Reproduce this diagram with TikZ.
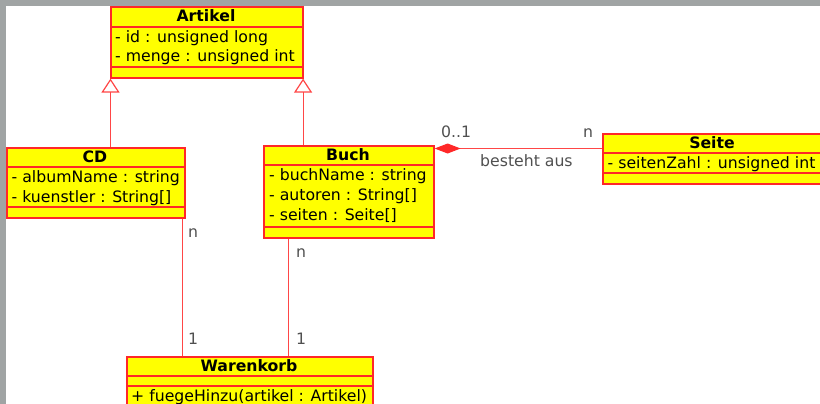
\documentclass[tikz,border=0pt]{standalone}
\usepackage{fontspec}
\setmainfont{DejaVu Sans}
\usetikzlibrary{arrows.meta,calc}
\definecolor{umlred}{RGB}{255,40,40}
\definecolor{umlline}{RGB}{255,70,70}
\definecolor{umlfill}{RGB}{255,255,0}
\definecolor{framegray}{RGB}{160,164,164}
\definecolor{labelgray}{RGB}{80,80,80}
\newcommand{\umlfont}{\fontsize{15.7}{18}\selectfont}
\begin{document}
\begin{tikzpicture}[x=1pt,y=-1pt,
  classbox/.style={draw=umlred, fill=umlfill, line width=1.6pt, inner sep=0pt, anchor=north west},
  divider/.style={draw=umlred, line width=1.6pt},
  classtitle/.style={font=\umlfont\bfseries, anchor=base, inner sep=0pt},
  member/.style={font=\umlfont, anchor=base west, inner sep=0pt},
  role/.style={font=\umlfont, text=labelgray, anchor=base west, inner sep=0pt},
  assoc/.style={draw=umlline, line width=1.2pt},
  inherit/.style={assoc, -{Triangle[open, length=14pt, width=18pt]}},
  compose/.style={assoc, {Diamond[length=26pt, width=10pt, fill=umlred, color=umlred]}-},
]
\clip (0,0) rectangle (820,404);
\useasboundingbox (0,0) rectangle (820,404);
% window background with grey frame
\fill[white] (0,0) rectangle (820,404);
\fill[framegray] (0,0) rectangle (820,6);
\fill[framegray] (0,0) rectangle (6,404);

% class Artikel
\node[classbox, minimum width=192pt, minimum height=71pt] (artikel) at (110,6) {};
\draw[divider] ($(artikel.north west)+(0,21)$) -- ($(artikel.north east)+(0,21)$);
\draw[divider] ($(artikel.north west)+(0,61)$) -- ($(artikel.north east)+(0,61)$);
\node[classtitle] (artikel-t) at (206,22) {Artikel};
\node[member] (artikel-a1) at (115,42.5) {- id : unsigned long};
\node[member] (artikel-a2) at (115,62) {- menge : unsigned int};

% class CD
\node[classbox, minimum width=178pt, minimum height=70pt] (cd) at (6,147) {};
\draw[divider] ($(cd.north west)+(0,20)$) -- ($(cd.north east)+(0,20)$);
\draw[divider] ($(cd.north west)+(0,60)$) -- ($(cd.north east)+(0,60)$);
\node[classtitle] (cd-t) at (95,162) {CD};
\node[member] (cd-a1) at (11.5,182) {- albumName : string};
\node[member] (cd-a2) at (11.5,202) {- kuenstler : String[]};

% class Buch
\node[classbox, minimum width=170pt, minimum height=92pt] (buch) at (263,145) {};
\draw[divider] ($(buch.north west)+(0,20)$) -- ($(buch.north east)+(0,20)$);
\draw[divider] ($(buch.north west)+(0,82)$) -- ($(buch.north east)+(0,82)$);
\node[classtitle] (buch-t) at (348,160) {Buch};
\node[member] (buch-a1) at (269,180) {- buchName : string};
\node[member] (buch-a2) at (269,200) {- autoren : String[]};
\node[member] (buch-a3) at (269,220) {- seiten : Seite[]};

% class Seite
\node[classbox, minimum width=220pt, minimum height=50pt] (seite) at (602,133) {};
\draw[divider] ($(seite.north west)+(0,20)$) -- ($(seite.north east)+(0,20)$);
\draw[divider] ($(seite.north west)+(0,40)$) -- ($(seite.north east)+(0,40)$);
\node[classtitle] (seite-t) at (712,148) {Seite};
\node[member] (seite-a1) at (607.5,168) {- seitenZahl : unsigned int};

% class Warenkorb
\node[classbox, minimum width=246pt, minimum height=64pt] (warenkorb) at (126,356) {};
\draw[divider] ($(warenkorb.north west)+(0,20)$) -- ($(warenkorb.north east)+(0,20)$);
\draw[divider] ($(warenkorb.north west)+(0,30)$) -- ($(warenkorb.north east)+(0,30)$);
\node[classtitle] (warenkorb-t) at (249,371) {Warenkorb};
\node[member] (warenkorb-o1) at (131,401) {+ fuegeHinzu(artikel : Artikel)};

% generalisations (lines centred on pixel columns)
\coordinate (cd-top) at ($(cd.north -| artikel.south west)+(0.5,0)$);
\coordinate (buch-top) at ($(buch.north -| artikel.south east)+(-0.5,0)$);
\draw[inherit] (cd-top) -- (cd-top |- artikel.south);
\draw[inherit] (buch-top) -- (buch-top |- artikel.south);

% composition Buch <>-- Seite
\coordinate (seite-in) at ($(seite.north west)+(0,15.5)$);
\draw[compose] (buch.east |- seite-in) -- (seite-in);
\node[role] (comp-m1) at (441,137) {0..1};
\node[role] (comp-m2) at (583,137) {n};
\node[role] (comp-name) at (480,166) {besteht aus};

% associations to Warenkorb
\coordinate (cd-foot) at ($(cd.south east)+(-3.5,0)$);
\coordinate (buch-foot) at ($(buch.south west)+(25.5,0)$);
\draw[assoc] (cd-foot) -- (cd-foot |- warenkorb.north);
\draw[assoc] (buch-foot) -- (buch-foot |- warenkorb.north);
\node[role] (cd-m1) at (188,237) {n};
\node[role] (cd-m2) at (188,344) {1};
\node[role] (buch-m1) at (296,257) {n};
\node[role] (buch-m2) at (296,344) {1};
\end{tikzpicture}
\end{document}
